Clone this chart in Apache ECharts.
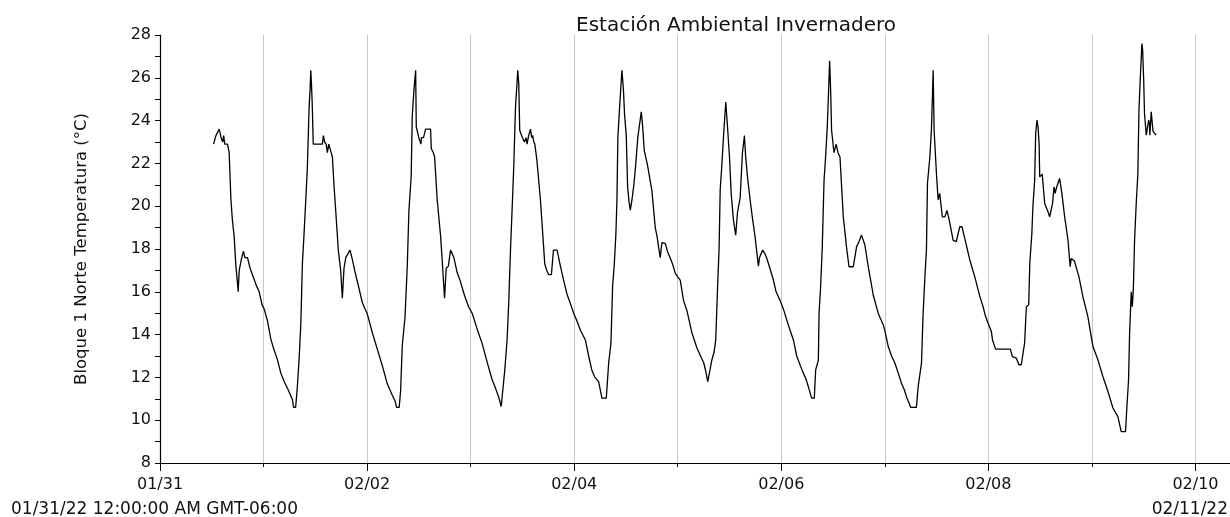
<!DOCTYPE html>
<html>
<head>
<meta charset="utf-8">
<script src="https://cdn.jsdelivr.net/npm/echarts@6/dist/echarts.min.js"></script>
<style>
html,body{margin:0;padding:0;overflow:hidden;background:#fff;}
#chart{width:1302px;height:517px;}
</style>
</head>
<body>
<div id="chart"></div>
<script>
// Time in days since 01/31/22 00:00 (GMT-06:00)
const dayOffsets = [
0.517,0.54,0.572,0.59,0.605,0.615,0.625,0.652,0.668,0.685,0.70,0.716,0.733,0.745,0.755,0.765,0.785,0.806,0.82,0.845,0.87,0.90,0.93,0.958,0.985,
1.006,1.04,1.07,1.10,1.13,1.167,1.20,1.24,1.279,1.29,1.31,1.327,1.345,1.36,1.375,1.39,1.408,1.423,1.44,1.45,1.456,1.462,1.47,1.48,1.568,1.578,1.59,1.605,1.616,1.63,1.645,1.665,1.68,1.697,1.722,1.745,1.761,1.777,1.794,1.81,1.835,1.858,1.88,1.91,1.954,1.98,
2.0,2.05,2.1,2.15,2.195,2.24,2.27,2.285,2.31,2.324,2.34,2.366,2.388,2.404,2.426,2.436,2.452,2.469,2.475,2.50,2.52,2.525,2.545,2.565,2.613,2.62,2.64,2.652,2.677,2.71,2.725,2.748,2.764,2.785,2.806,2.82,2.838,2.87,2.90,2.93,2.95,2.98,
3.015,3.06,3.11,3.16,3.207,3.24,3.27,3.295,3.304,3.33,3.352,3.368,3.385,3.40,3.416,3.433,3.447,3.455,3.465,3.474,3.50,3.52,3.535,3.545,3.56,3.578,3.59,3.60,3.61,3.62,3.64,3.674,3.695,3.716,3.735,3.754,3.78,3.80,3.835,3.867,3.90,3.93,3.96,3.995,
4.03,4.06,4.108,4.14,4.17,4.20,4.236,4.268,4.31,4.333,4.355,4.371,4.388,4.403,4.413,4.422,4.439,4.461,4.475,4.487,4.503,4.516,4.53,4.542,4.558,4.574,4.59,4.615,4.648,4.66,4.677,4.709,4.73,4.75,4.783,4.80,4.815,4.831,4.847,4.88,4.90,4.928,4.95,4.976,
5.0,5.024,5.056,5.09,5.136,5.184,5.22,5.25,5.27,5.29,5.30,5.329,5.352,5.367,5.384,5.40,5.41,5.425,5.442,5.464,5.483,5.50,5.516,5.538,5.56,5.577,5.603,5.625,5.644,5.655,5.673,5.699,5.72,5.747,5.779,5.79,5.82,5.84,5.86,5.89,5.924,5.95,5.988,
6.02,6.052,6.085,6.117,6.149,6.18,6.213,6.24,6.261,6.293,6.319,6.332,6.358,6.365,6.38,6.396,6.413,6.428,6.444,6.454,6.467,6.477,6.486,6.509,6.53,6.548,6.567,6.599,6.63,6.654,6.695,6.71,6.727,6.75,6.775,6.807,6.84,6.865,6.888,6.936,6.985,
7.0,7.033,7.065,7.097,7.13,7.161,7.19,7.209,7.25,7.305,7.322,7.354,7.37,7.387,7.402,7.412,7.435,7.45,7.467,7.476,7.50,7.515,7.53,7.556,7.58,7.60,7.62,7.66,7.69,7.724,7.745,7.772,7.82,7.869,7.917,7.949,7.97,7.997,
8.029,8.04,8.07,8.212,8.232,8.27,8.296,8.318,8.335,8.35,8.367,8.39,8.40,8.42,8.43,8.447,8.457,8.47,8.48,8.49,8.496,8.51,8.52,8.544,8.576,8.592,8.62,8.634,8.645,8.66,8.688,8.71,8.737,8.769,8.79,8.80,8.83,8.875,8.913,8.961,
9.01,9.058,9.106,9.155,9.203,9.251,9.283,9.325,9.338,9.354,9.364,9.38,9.39,9.40,9.412,9.428,9.444,9.454,9.467,9.483,9.49,9.50,9.508,9.525,9.548,9.555,9.56,9.573,9.59,9.62
];
const temperatures = [
22.9,23.3,23.6,23.2,23.0,23.3,22.9,22.9,22.5,20.3,19.3,18.6,17.2,16.6,16.0,17.0,17.5,17.9,17.6,17.6,17.1,16.7,16.3,16.0,15.4,
15.2,14.6,13.8,13.3,12.9,12.2,11.8,11.4,10.95,10.6,10.6,11.6,13.0,14.5,17.3,18.6,20.3,21.8,24.6,25.5,26.35,25.8,24.8,22.9,22.9,23.3,23.0,22.9,22.5,22.9,22.9,22.3,21.0,19.8,17.95,17.0,15.7,17.1,17.6,17.6,17.95,17.5,17.0,16.4,15.5,15.2,
15.0,14.1,13.3,12.5,11.7,11.2,10.9,10.6,10.6,11.4,13.5,14.8,17.2,19.8,21.4,24.2,25.4,26.35,23.7,23.2,22.9,23.2,23.2,23.6,23.6,22.7,22.5,22.3,20.3,18.6,17.5,15.7,17.1,17.2,17.95,17.8,17.6,16.9,16.5,16.0,15.7,15.3,
15.0,14.3,13.6,12.7,11.9,11.5,11.1,10.64,10.64,12.35,13.75,15.5,17.95,19.8,21.8,24.6,25.7,26.35,25.7,23.55,23.2,23.0,23.2,22.9,23.3,23.6,23.2,23.3,23.0,22.9,22.15,20.3,18.8,17.3,17.0,16.8,16.8,17.95,17.95,17.2,16.5,15.9,15.5,15.0,
14.6,14.2,13.75,13.0,12.35,12.0,11.8,11.03,11.03,12.67,13.6,16.24,17.33,18.73,20.3,23.24,24.64,26.35,25.5,24.25,23.3,20.9,20.2,19.82,20.3,20.9,21.7,23.24,24.41,23.8,22.6,21.9,21.3,20.75,19.0,18.6,18.1,17.6,18.3,18.26,17.9,17.57,17.3,16.87,
16.7,16.55,15.6,15.1,14.1,13.4,13.0,12.7,12.3,11.8,11.8,12.8,13.2,13.75,16.1,18.1,20.75,21.84,23.24,24.87,23.55,22.3,20.6,19.35,18.65,19.7,20.4,22.5,23.3,22.4,21.4,20.3,19.5,18.57,17.2,17.6,17.95,17.8,17.57,17.1,16.55,16.0,15.6,
15.2,14.7,14.2,13.75,13.0,12.6,12.2,11.9,11.57,11.03,11.03,12.35,12.8,15.0,16.24,18.1,21.2,22.3,23.7,24.95,26.8,25.4,23.55,22.5,22.9,22.5,22.3,19.5,18.1,17.17,17.17,17.6,18.1,18.34,18.65,18.2,17.17,16.5,15.85,15.0,14.45,
14.2,13.44,13.0,12.67,12.2,11.73,11.4,11.1,10.6,10.6,11.57,12.67,15.0,16.7,17.95,21.07,22.3,23.55,26.35,23.55,21.4,20.3,20.6,19.5,19.5,19.8,19.4,18.4,18.34,19.04,19.04,18.5,17.5,16.7,15.8,15.3,14.9,14.53,
14.14,13.75,13.32,13.32,12.97,12.9,12.59,12.59,13.13,13.6,15.3,15.4,17.33,18.73,19.97,21.2,23.4,24.02,23.7,22.93,21.37,21.37,21.5,20.13,19.74,19.5,20.13,20.9,20.6,20.9,21.3,20.6,19.5,18.42,17.17,17.55,17.45,16.7,15.77,14.84,
13.44,12.82,12.04,11.34,10.57,10.17,9.47,9.47,10.64,11.89,14.07,16.0,15.3,16.1,18.42,20.13,21.53,24.41,25.96,27.6,27.3,25.9,24.33,23.32,24.02,23.9,23.32,24.41,23.5,23.32
];
const xTickLabels = ['01/31','02/02','02/04','02/06','02/08','02/10'];
const yTicks = [8,10,12,14,16,18,20,22,24,26,28];
const titleText = 'Estación Ambiental Invernadero';
const yAxisTitle = 'Bloque 1 Norte Temperatura (°C)';
const startLabel = '01/31/22 12:00:00 AM GMT-06:00';
const endLabel = '02/11/22';

const seriesData = dayOffsets.map((d, i) => [d, temperatures[i]]);
const FONT = 'DejaVu Sans';
const chart = echarts.init(document.getElementById('chart'), null, {renderer: 'canvas'});
chart.setOption({
  animation: false,
  backgroundColor: '#fff',
  title: {
    text: titleText, left: 731, top: 11, textAlign: 'center',
    textStyle: {fontFamily: FONT, fontSize: 20, fontWeight: 'normal', color: '#111'}
  },
  grid: {left: 160, right: 0, top: 35, bottom: 54, containLabel: false},
  xAxis: {
    type: 'value', min: 0, max: 11, interval: 2,
    axisLine: {show: true, lineStyle: {color: '#000', width: 1.2}},
    axisTick: {show: true, length: 8, lineStyle: {color: '#000'}},
    minorTick: {show: true, splitNumber: 2, length: 4, lineStyle: {color: '#000'}},
    splitLine: {show: true, lineStyle: {color: '#c8c8c8', width: 1}},
    minorSplitLine: {show: true, lineStyle: {color: '#c8c8c8', width: 1}},
    axisLabel: {
      fontFamily: FONT, fontSize: 16, color: '#111', margin: 14,
      formatter: v => (Number.isInteger(v / 2) && xTickLabels[v / 2]) ? xTickLabels[v / 2] : ''
    }
  },
  yAxis: {
    type: 'value', min: yTicks[0], max: yTicks[yTicks.length - 1], interval: 2,
    name: yAxisTitle, nameLocation: 'middle', nameRotate: 90, nameGap: 70,
    nameTextStyle: {fontFamily: FONT, fontSize: 16.5, color: '#111'},
    axisLine: {show: true, lineStyle: {color: '#000', width: 1.2}},
    axisTick: {show: true, length: 5, lineStyle: {color: '#000'}},
    minorTick: {show: true, splitNumber: 2, length: 5, lineStyle: {color: '#000'}},
    splitLine: {show: false},
    axisLabel: {fontFamily: FONT, fontSize: 16, color: '#111', margin: 9}
  },
  graphic: [
    {type: 'text', left: 11, top: 501, style: {text: startLabel, fontFamily: FONT, fontSize: 17, fill: '#111'}},
    {type: 'text', right: 74, top: 501, style: {text: endLabel, fontFamily: FONT, fontSize: 17, fill: '#111'}}
  ],
  series: [{
    type: 'line', data: seriesData, showSymbol: false, symbol: 'none',
    lineStyle: {color: '#000', width: 1.3}, clip: true
  }]
});
</script>
</body>
</html>
